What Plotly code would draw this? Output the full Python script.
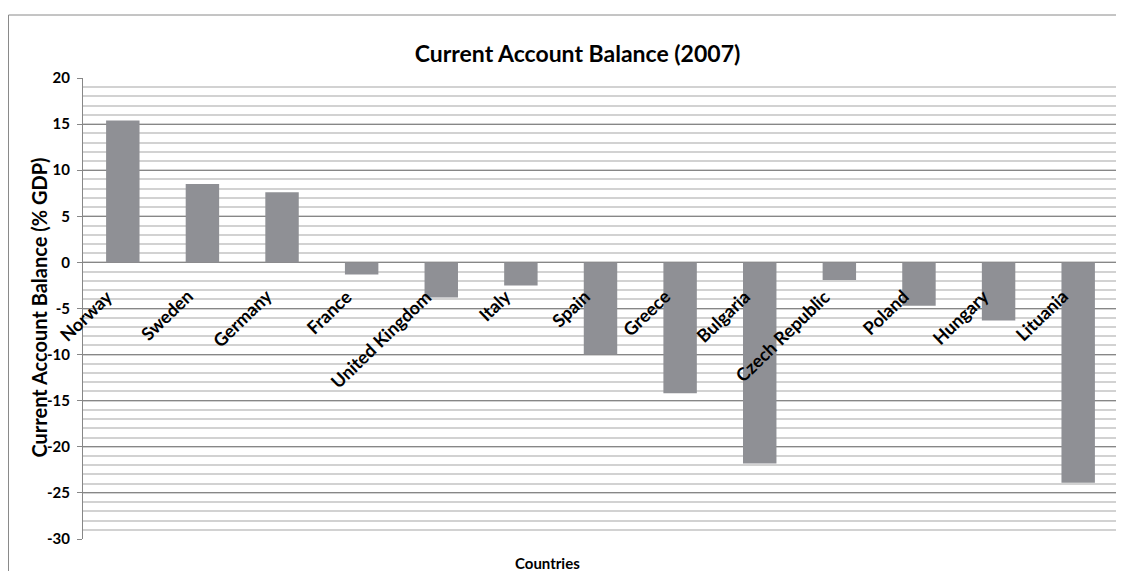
import plotly.graph_objects as go

countries = ["Norway", "Sweden", "Germany", "France", "United Kingdom", "Italy", "Spain",
             "Greece", "Bulgaria", "Czech Republic", "Poland", "Hungary", "Lituania"]
balance = [15.4, 8.5, 7.6, -1.3, -3.8, -2.5, -10.0, -14.2, -21.8, -1.9, -4.7, -6.3, -23.9]
y_ticks = [20, 15, 10, 5, 0, -5, -10, -15, -20, -25, -30]

FONT = "Lato"
OFF = 8  # page body margin
W, H = 1124 - OFF, 571 - OFF
# plot area in reference pixels: x 83..1118, y 78..539
L, R, T, B = 83 - OFF, 6, 78 - OFF, 32
pw, ph = 1035, 461


def px_x(p):
    return (p - 83) / pw


def px_y(p):
    return (539 - p) / ph


fig = go.Figure()
fig.add_trace(go.Bar(x=countries, y=balance, marker_color="#8f9095",
                     marker_line_width=0, width=0.42))

annotations = []
for c in countries:
    annotations.append(dict(x=c, y=0, xref="x", yref="y", text="<b>" + c + "</b>",
                            showarrow=False, textangle=-44,
                            xanchor="right", yanchor="top",
                            xshift=-3, yshift=-20,
                            font=dict(family=FONT, size=18, color="#000000")))
annotations.append(dict(x=px_x(38), y=px_y(307.5), xref="paper", yref="paper",
                        text="<b>Current Account Balance (% GDP)</b>", textangle=-90,
                        showarrow=False, xanchor="center", yanchor="middle",
                        font=dict(family=FONT, size=20, color="#000000")))
annotations.append(dict(x=px_x(547), y=px_y(563), xref="paper", yref="paper",
                        text="<b>Countries</b>", showarrow=False,
                        xanchor="center", yanchor="middle",
                        font=dict(family=FONT, size=15, color="#000000")))

fig.update_layout(
    width=W, height=H,
    margin=dict(l=L, r=R, t=T, b=B, pad=0),
    paper_bgcolor="white", plot_bgcolor="white",
    showlegend=False,
    title=dict(text="<b>Current Account Balance (2007)</b>",
               x=(577.5 - OFF) / W, xanchor="center",
               y=1 - (54 - OFF) / H, yanchor="middle",
               font=dict(family=FONT, size=23, color="#000000")),
    xaxis=dict(showticklabels=False, showgrid=False, zeroline=False, showline=False,
               ticks="", range=[-0.5, 12.5]),
    yaxis=dict(range=[-30, 20], tickvals=y_ticks, ticktext=[str(v) for v in y_ticks],
               showgrid=True, gridcolor="#878787", gridwidth=1,
               zeroline=True, zerolinecolor="#878787", zerolinewidth=1,
               showline=True, linecolor="#878787", linewidth=1,
               ticks="outside", ticklen=5, tickcolor="#878787",
               ticklabelstandoff=4,
               tickfont=dict(family=FONT, size=15, color="#000000", weight="bold"),
               minor=dict(dtick=1, showgrid=True, gridcolor="#d2d2d2", gridwidth=1.5)),
    annotations=annotations,
    shapes=[dict(type="rect", xref="paper", yref="paper",
                 x0=px_x(8.5), x1=px_x(1140), y0=px_y(15), y1=px_y(620),
                 line=dict(color="#8a8a8a", width=1), layer="below")],
    font=dict(family=FONT),
)

fig.write_html("out.html")
